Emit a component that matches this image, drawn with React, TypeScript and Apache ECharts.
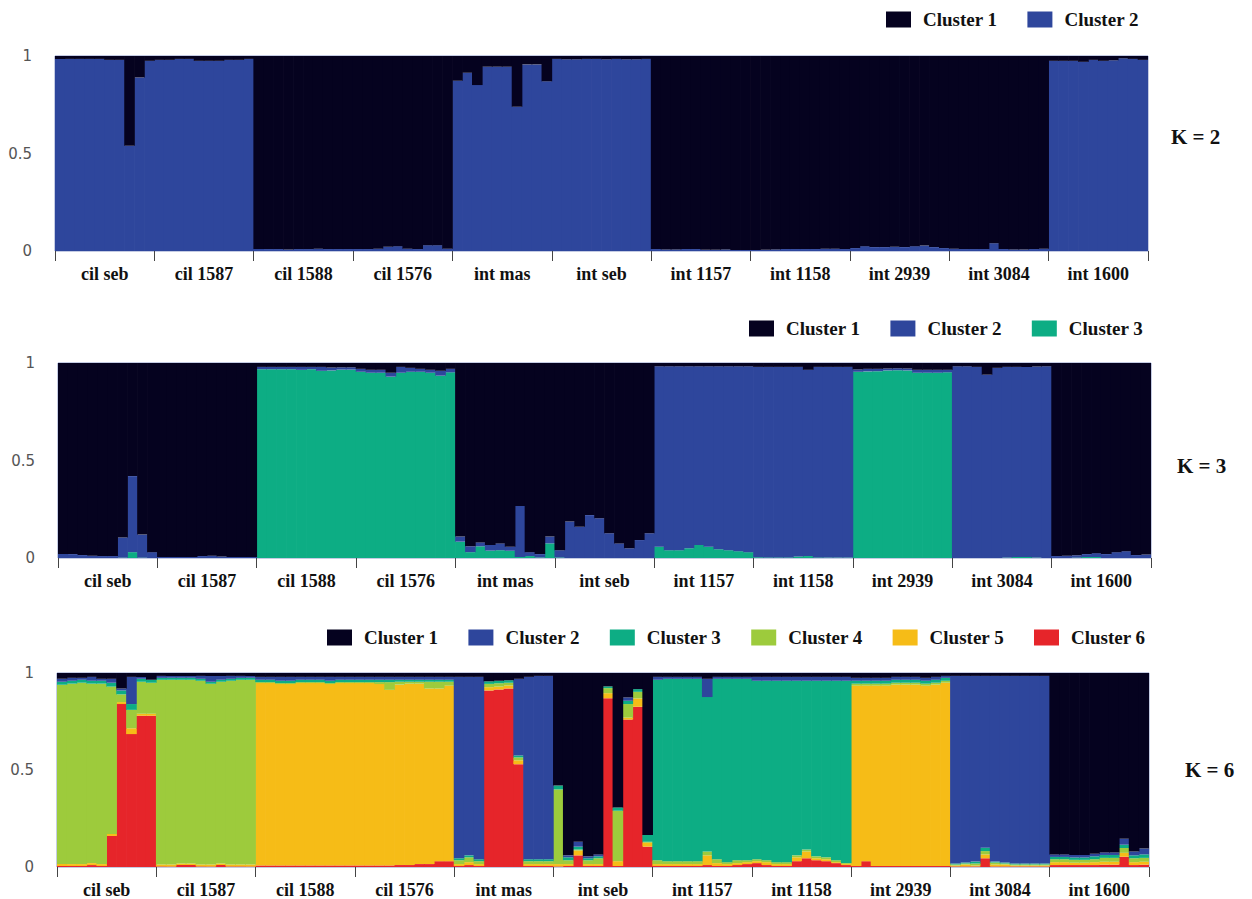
import React, { useEffect, useRef } from "react";
import * as echarts from "echarts";

// Populations (10 individuals each)
const populations = [
  "cil seb", "cil 1587", "cil 1588", "cil 1576", "int mas", "int seb",
  "int 1157", "int 1158", "int 2939", "int 3084", "int 1600",
];
const individualsPerPop = 10;
const panelLabels = ["K = 2", "K = 3", "K = 6"];
const clusterNames = ["Cluster 1", "Cluster 2", "Cluster 3", "Cluster 4", "Cluster 5", "Cluster 6"];
const clusterColors = ["#05021f", "#2e469c", "#0dad84", "#9dcb3c", "#f6bc17", "#e6252a"];

// ---------- K = 2 ----------
const k2Cluster2 = [
  0.985, 0.985, 0.985, 0.985, 0.985, 0.98, 0.98, 0.54, 0.89, 0.975,
  0.98, 0.98, 0.985, 0.985, 0.975, 0.975, 0.975, 0.98, 0.98, 0.985,
  0.01, 0.01, 0.01, 0.008, 0.01, 0.01, 0.012, 0.01, 0.01, 0.01,
  0.01, 0.01, 0.012, 0.022, 0.025, 0.012, 0.01, 0.03, 0.03, 0.012,
  0.873, 0.914, 0.851, 0.945, 0.945, 0.945, 0.74, 0.957, 0.957, 0.87,
  0.985, 0.983, 0.983, 0.985, 0.985, 0.983, 0.985, 0.983, 0.983, 0.985,
  0.01, 0.008, 0.008, 0.01, 0.01, 0.006, 0.006, 0.008, 0.005, 0.005,
  0.005, 0.006, 0.008, 0.01, 0.01, 0.01, 0.01, 0.012, 0.012, 0.01,
  0.015, 0.025, 0.02, 0.02, 0.022, 0.02, 0.025, 0.028, 0.02, 0.015,
  0.012, 0.01, 0.01, 0.01, 0.04, 0.01, 0.008, 0.008, 0.01, 0.012,
  0.975, 0.975, 0.975, 0.97, 0.98, 0.975, 0.978, 0.988, 0.985, 0.98,
];
const k2Cluster1 = [
  0.015, 0.015, 0.015, 0.015, 0.015, 0.02, 0.02, 0.46, 0.11, 0.025,
  0.02, 0.02, 0.015, 0.015, 0.025, 0.025, 0.025, 0.02, 0.02, 0.015,
  0.99, 0.99, 0.99, 0.992, 0.99, 0.99, 0.988, 0.99, 0.99, 0.99,
  0.99, 0.99, 0.988, 0.978, 0.975, 0.988, 0.99, 0.97, 0.97, 0.988,
  0.127, 0.086, 0.149, 0.055, 0.055, 0.055, 0.26, 0.043, 0.043, 0.13,
  0.015, 0.017, 0.017, 0.015, 0.015, 0.017, 0.015, 0.017, 0.017, 0.015,
  0.99, 0.992, 0.992, 0.99, 0.99, 0.994, 0.994, 0.992, 0.995, 0.995,
  0.995, 0.994, 0.992, 0.99, 0.99, 0.99, 0.99, 0.988, 0.988, 0.99,
  0.985, 0.975, 0.98, 0.98, 0.978, 0.98, 0.975, 0.972, 0.98, 0.985,
  0.988, 0.99, 0.99, 0.99, 0.96, 0.99, 0.992, 0.992, 0.99, 0.988,
  0.025, 0.025, 0.025, 0.03, 0.02, 0.025, 0.022, 0.012, 0.015, 0.02,
];

// ---------- K = 3 ----------
const k3Cluster3 = [
  0, 0, 0, 0, 0, 0, 0.002, 0.03, 0.002, 0,
  0, 0, 0, 0, 0, 0, 0, 0, 0, 0,
  0.968, 0.968, 0.968, 0.968, 0.965, 0.968, 0.96, 0.962, 0.966, 0.966,
  0.955, 0.95, 0.95, 0.93, 0.95, 0.955, 0.955, 0.95, 0.935, 0.952,
  0.084, 0.03, 0.06, 0.038, 0.04, 0.037, 0.005, 0.01, 0.003, 0.075,
  0.003, 0, 0, 0, 0, 0, 0, 0, 0, 0,
  0.058, 0.04, 0.04, 0.05, 0.067, 0.058, 0.045, 0.04, 0.035, 0.03,
  0.004, 0.003, 0.003, 0.003, 0.008, 0.01, 0.003, 0.002, 0.002, 0.002,
  0.955, 0.957, 0.958, 0.962, 0.963, 0.962, 0.95, 0.95, 0.95, 0.952,
  0, 0, 0, 0, 0, 0.002, 0.005, 0.005, 0.002, 0,
  0, 0, 0.002, 0.005, 0.005, 0, 0, 0, 0, 0,
];
const k3Cluster2 = [
  0.02, 0.02, 0.015, 0.012, 0.01, 0.01, 0.103, 0.39, 0.118, 0.03,
  0.005, 0.005, 0.005, 0.005, 0.01, 0.012, 0.008, 0.005, 0.005, 0.005,
  0.012, 0.012, 0.012, 0.012, 0.015, 0.012, 0.02, 0.015, 0.012, 0.012,
  0.015, 0.015, 0.015, 0.02, 0.03, 0.02, 0.015, 0.015, 0.025, 0.018,
  0.026, 0.03, 0.02, 0.029, 0.035, 0.021, 0.262, 0.02, 0.017, 0.035,
  0.037, 0.187, 0.16, 0.22, 0.204, 0.127, 0.075, 0.05, 0.092, 0.127,
  0.925, 0.943, 0.943, 0.933, 0.916, 0.925, 0.938, 0.943, 0.948, 0.953,
  0.976, 0.977, 0.977, 0.977, 0.972, 0.955, 0.977, 0.978, 0.978, 0.978,
  0.012, 0.013, 0.012, 0.01, 0.01, 0.01, 0.015, 0.015, 0.015, 0.013,
  0.983, 0.983, 0.98, 0.94, 0.975, 0.978, 0.975, 0.975, 0.98, 0.983,
  0.01, 0.012, 0.012, 0.015, 0.02, 0.02, 0.03, 0.035, 0.015, 0.018,
];
const k3Cluster1 = [
  0.98, 0.98, 0.985, 0.988, 0.99, 0.99, 0.895, 0.58, 0.88, 0.97,
  0.995, 0.995, 0.995, 0.995, 0.99, 0.988, 0.992, 0.995, 0.995, 0.995,
  0.02, 0.02, 0.02, 0.02, 0.02, 0.02, 0.02, 0.023, 0.022, 0.022,
  0.03, 0.035, 0.035, 0.05, 0.02, 0.025, 0.03, 0.035, 0.04, 0.03,
  0.89, 0.94, 0.92, 0.933, 0.925, 0.942, 0.733, 0.97, 0.98, 0.89,
  0.96, 0.813, 0.84, 0.78, 0.796, 0.873, 0.925, 0.95, 0.908, 0.873,
  0.017, 0.017, 0.017, 0.017, 0.017, 0.017, 0.017, 0.017, 0.017, 0.017,
  0.02, 0.02, 0.02, 0.02, 0.02, 0.035, 0.02, 0.02, 0.02, 0.02,
  0.033, 0.03, 0.03, 0.028, 0.027, 0.028, 0.035, 0.035, 0.035, 0.035,
  0.017, 0.017, 0.02, 0.06, 0.025, 0.02, 0.02, 0.02, 0.018, 0.017,
  0.99, 0.988, 0.986, 0.98, 0.975, 0.98, 0.97, 0.965, 0.985, 0.982,
];

// ---------- K = 6 ----------
const k6Cluster6 = [
  0.005, 0.005, 0.005, 0.01, 0.005, 0.16, 0.84, 0.685, 0.78, 0.78,
  0.003, 0.003, 0.01, 0.01, 0.003, 0.003, 0.01, 0.003, 0.003, 0.003,
  0.008, 0.008, 0.008, 0.008, 0.008, 0.008, 0.008, 0.008, 0.008, 0.008,
  0.008, 0.008, 0.008, 0.008, 0.01, 0.01, 0.015, 0.015, 0.03, 0.03,
  0.005, 0.01, 0.005, 0.91, 0.915, 0.92, 0.53, 0.005, 0.005, 0.005,
  0.003, 0.005, 0.06, 0.005, 0.005, 0.87, 0.005, 0.76, 0.826, 0.105,
  0.005, 0.005, 0.005, 0.005, 0.005, 0.01, 0.005, 0.005, 0.01, 0.015,
  0.02, 0.01, 0.005, 0.005, 0.03, 0.045, 0.035, 0.03, 0.02, 0.01,
  0.005, 0.03, 0.005, 0.005, 0.005, 0.005, 0.005, 0.005, 0.005, 0.005,
  0.003, 0.003, 0.003, 0.045, 0.003, 0.003, 0.003, 0.003, 0.003, 0.003,
  0.01, 0.01, 0.01, 0.01, 0.01, 0.012, 0.012, 0.053, 0.01, 0.012,
];
const k6Cluster5 = [
  0.01, 0.01, 0.01, 0.01, 0.01, 0.01, 0.01, 0.03, 0.01, 0.01,
  0.01, 0.01, 0.008, 0.008, 0.01, 0.01, 0.008, 0.01, 0.01, 0.01,
  0.94, 0.94, 0.935, 0.935, 0.94, 0.94, 0.94, 0.935, 0.94, 0.94,
  0.94, 0.94, 0.935, 0.905, 0.93, 0.935, 0.93, 0.905, 0.89, 0.905,
  0.01, 0.015, 0.01, 0.017, 0.015, 0.015, 0.02, 0.01, 0.01, 0.01,
  0.012, 0.01, 0.025, 0.01, 0.01, 0.026, 0.025, 0.01, 0.043, 0.02,
  0.01, 0.01, 0.01, 0.01, 0.01, 0.05, 0.015, 0.01, 0.01, 0.01,
  0.01, 0.015, 0.01, 0.01, 0.02, 0.035, 0.01, 0.01, 0.005, 0.005,
  0.93, 0.905, 0.93, 0.93, 0.935, 0.935, 0.935, 0.93, 0.935, 0.945,
  0.005, 0.01, 0.005, 0.02, 0.01, 0.01, 0.005, 0.005, 0.005, 0.005,
  0.015, 0.015, 0.012, 0.012, 0.015, 0.015, 0.015, 0.02, 0.015, 0.015,
];
const k6Cluster4 = [
  0.925, 0.93, 0.935, 0.925, 0.93, 0.76, 0.04, 0.095, 0.165, 0.16,
  0.952, 0.952, 0.947, 0.947, 0.947, 0.932, 0.937, 0.947, 0.952, 0.952,
  0.005, 0.005, 0.005, 0.005, 0.005, 0.005, 0.005, 0.005, 0.005, 0.005,
  0.005, 0.005, 0.01, 0.04, 0.015, 0.01, 0.01, 0.035, 0.035, 0.02,
  0.02, 0.025, 0.015, 0.017, 0.017, 0.015, 0.015, 0.015, 0.015, 0.015,
  0.385, 0.02, 0.005, 0.02, 0.03, 0.026, 0.26, 0.07, 0.034, 0.005,
  0.02, 0.015, 0.015, 0.015, 0.015, 0.02, 0.02, 0.01, 0.015, 0.01,
  0.01, 0.01, 0.01, 0.01, 0.01, 0.01, 0.01, 0.01, 0.01, 0.005,
  0.01, 0.01, 0.01, 0.01, 0.01, 0.01, 0.01, 0.01, 0.01, 0.01,
  0.005, 0.005, 0.01, 0.017, 0.01, 0.005, 0.005, 0.005, 0.005, 0.005,
  0.015, 0.015, 0.015, 0.015, 0.015, 0.02, 0.02, 0.025, 0.02, 0.02,
];
const k6Cluster3 = [
  0.015, 0.015, 0.015, 0.015, 0.015, 0.02, 0.02, 0.03, 0.015, 0.015,
  0.01, 0.01, 0.01, 0.01, 0.01, 0.01, 0.01, 0.01, 0.01, 0.01,
  0.012, 0.012, 0.012, 0.012, 0.012, 0.012, 0.012, 0.012, 0.012, 0.012,
  0.012, 0.012, 0.012, 0.012, 0.01, 0.01, 0.01, 0.01, 0.01, 0.01,
  0.01, 0.01, 0.01, 0.013, 0.013, 0.012, 0.01, 0.01, 0.01, 0.01,
  0.02, 0.015, 0.015, 0.01, 0.01, 0.009, 0.017, 0.017, 0.014, 0.035,
  0.93, 0.94, 0.94, 0.94, 0.94, 0.796, 0.93, 0.945, 0.935, 0.935,
  0.92, 0.925, 0.935, 0.935, 0.9, 0.87, 0.905, 0.91, 0.925, 0.94,
  0.015, 0.015, 0.015, 0.015, 0.015, 0.015, 0.015, 0.015, 0.015, 0.015,
  0.005, 0.005, 0.01, 0.017, 0.005, 0.005, 0.005, 0.005, 0.005, 0.005,
  0.012, 0.012, 0.012, 0.012, 0.015, 0.015, 0.015, 0.017, 0.015, 0.018,
];
const k6Cluster2 = [
  0.015, 0.015, 0.01, 0.02, 0.01, 0.02, 0.01, 0.14, 0.01, 0,
  0.01, 0.01, 0.01, 0.01, 0.015, 0.03, 0.02, 0.015, 0.01, 0.01,
  0.015, 0.015, 0.02, 0.02, 0.015, 0.015, 0.015, 0.02, 0.015, 0.015,
  0.015, 0.015, 0.015, 0.015, 0.015, 0.015, 0.015, 0.015, 0.015, 0.015,
  0.935, 0.92, 0.94, 0, 0, 0, 0.395, 0.94, 0.945, 0.945,
  0, 0.01, 0.025, 0.01, 0.01, 0, 0, 0.017, 0, 0,
  0.015, 0.01, 0.01, 0.01, 0.01, 0.094, 0.01, 0.01, 0.01, 0.01,
  0.02, 0.02, 0.02, 0.02, 0.02, 0.02, 0.02, 0.02, 0.02, 0.02,
  0.015, 0.015, 0.015, 0.015, 0.015, 0.015, 0.015, 0.015, 0.015, 0.01,
  0.967, 0.962, 0.957, 0.886, 0.957, 0.962, 0.967, 0.967, 0.967, 0.967,
  0.013, 0.013, 0.013, 0.013, 0.013, 0.013, 0.013, 0.03, 0.02, 0.03,
];
const k6Cluster1 = [
  0.03, 0.025, 0.025, 0.02, 0.03, 0.03, 0.08, 0.02, 0.02, 0.035,
  0.015, 0.015, 0.015, 0.015, 0.015, 0.015, 0.015, 0.015, 0.015, 0.015,
  0.02, 0.02, 0.02, 0.02, 0.02, 0.02, 0.02, 0.02, 0.02, 0.02,
  0.02, 0.02, 0.02, 0.02, 0.02, 0.02, 0.02, 0.02, 0.02, 0.02,
  0.02, 0.02, 0.02, 0.043, 0.04, 0.038, 0.03, 0.02, 0.015, 0.015,
  0.58, 0.94, 0.87, 0.945, 0.935, 0.069, 0.693, 0.126, 0.083, 0.835,
  0.02, 0.02, 0.02, 0.02, 0.02, 0.03, 0.02, 0.02, 0.02, 0.02,
  0.02, 0.02, 0.02, 0.02, 0.02, 0.02, 0.02, 0.02, 0.02, 0.02,
  0.025, 0.025, 0.025, 0.025, 0.02, 0.02, 0.02, 0.025, 0.02, 0.015,
  0.015, 0.015, 0.015, 0.015, 0.015, 0.015, 0.015, 0.015, 0.015, 0.015,
  0.935, 0.935, 0.938, 0.938, 0.932, 0.925, 0.925, 0.855, 0.92, 0.905,
];

// cluster arrays per panel, index 0 = Cluster 1
const panelData = [
  [k2Cluster1, k2Cluster2],
  [k3Cluster1, k3Cluster2, k3Cluster3],
  [k6Cluster1, k6Cluster2, k6Cluster3, k6Cluster4, k6Cluster5, k6Cluster6],
];

// layout (pixels)
const grids = [
  { left: 55, right: 104, top: 56, height: 195 },
  { left: 58, right: 101, top: 363, height: 195 },
  { left: 57, right: 103, top: 673, height: 194 },
];
const legendPos = [
  { left: 886, top: 10 },
  { left: 749, top: 319 },
  { left: 327, top: 628 },
];
const kLabelPos = [
  { left: 1171, top: 126 },
  { left: 1177, top: 455 },
  { left: 1185, top: 759 },
];

const serif = '"Liberation Serif", "Times New Roman", serif';

export default function App() {
  const ref = useRef<HTMLDivElement>(null);

  useEffect(() => {
    if (!ref.current) return;
    const chart = echarts.init(ref.current, undefined, { renderer: "svg" });
    const nInd = populations.length * individualsPerPop;
    const cats = Array.from({ length: nInd }, (_, i) => String(i + 1));

    const xAxis: any[] = [];
    const yAxis: any[] = [];
    const series: any[] = [];
    const legend: any[] = [];

    panelData.forEach((clusters, g) => {
      xAxis.push({
        type: "category",
        gridIndex: g,
        data: cats,
        show: false,
      });
      xAxis.push({
        type: "value",
        gridIndex: g,
        position: "bottom",
        min: 0,
        max: nInd,
        interval: individualsPerPop,
        axisLine: { show: false },
        axisTick: { show: true, length: 10, lineStyle: { color: "#444", width: 1 } },
        axisLabel: { show: false },
        splitLine: { show: false },
      });
      xAxis.push({
        type: "value",
        gridIndex: g,
        position: "bottom",
        min: 0,
        max: nInd,
        interval: individualsPerPop / 2,
        axisLine: { show: false },
        axisTick: { show: false },
        splitLine: { show: false },
        axisLabel: {
          margin: 14,
          fontFamily: serif,
          fontWeight: "bold",
          fontSize: 18,
          color: "#111",
          formatter: (v: number) => {
            if (v % individualsPerPop === individualsPerPop / 2) {
              return populations[(v - individualsPerPop / 2) / individualsPerPop] ?? "";
            }
            return "";
          },
        },
      });
      yAxis.push({
        type: "value",
        gridIndex: g,
        min: 0,
        max: 1,
        interval: 0.5,
        axisLine: { show: false },
        axisTick: { show: false },
        splitLine: { show: false },
        axisLabel: { margin: 23, color: "#555", fontSize: 15, fontFamily: '"DejaVu Sans", sans-serif' },
      });
      // stack from highest cluster number (bottom) to Cluster 1 (top)
      for (let c = clusters.length - 1; c >= 0; c--) {
        series.push({
          type: "bar",
          name: clusterNames[c],
          stack: "panel" + g,
          xAxisIndex: g * 3,
          yAxisIndex: g,
          barWidth: "107%",
          data: clusters[c],
          itemStyle: { color: clusterColors[c] },
          emphasis: { disabled: true },
        });
      }
      legend.push({
        data: clusterNames.slice(0, clusters.length),
        left: legendPos[g].left,
        top: legendPos[g].top,
        padding: 0,
        orient: "horizontal",
        icon: "rect",
        itemWidth: 25,
        itemHeight: 16,
        itemGap: 30,
        selectedMode: false,
        itemStyle: { borderWidth: 0 },
        textStyle: {
          fontFamily: serif,
          fontWeight: "bold",
          fontSize: 19,
          color: "#111",
          padding: [0, 0, 0, 7],
        },
      });
    });

    chart.setOption({
      animation: false,
      backgroundColor: "#ffffff",
      grid: grids.map((gr) => ({
        ...gr,
        show: true,
        borderColor: "#8a98c8",
        borderWidth: 1,
        backgroundColor: "transparent",
      })),
      xAxis,
      yAxis,
      series,
      legend,
      graphic: panelLabels.map((t, i) => ({
        type: "text",
        left: kLabelPos[i].left,
        top: kLabelPos[i].top,
        style: {
          text: t,
          font: `bold 21px ${serif}`,
          fill: "#111",
        },
      })),
    });

    return () => chart.dispose();
  }, []);

  return (
    <div
      ref={ref}
      style={{ position: "absolute", left: 0, top: 0, width: 1252, height: 899, background: "#fff" }}
    />
  );
}
